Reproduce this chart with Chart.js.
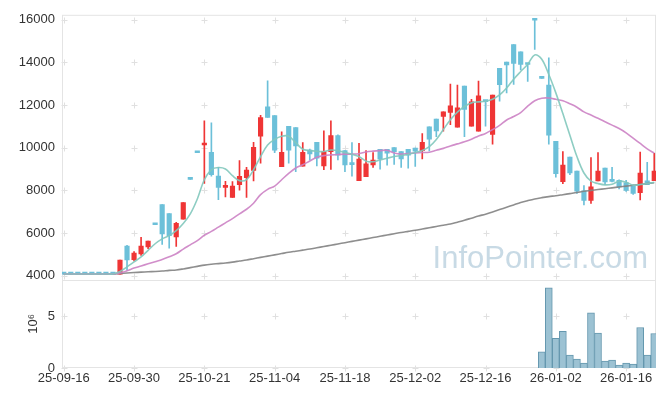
<!DOCTYPE html>
<html>
<head>
<meta charset="utf-8">
<script src="https://cdn.jsdelivr.net/npm/chart.js@4.4.1/dist/chart.umd.min.js"></script>
<style>
    html, body { margin: 0; padding: 0; background: #fff; }
    #grafico { display: block; }
</style>
</head>
<body>
<canvas id="grafico" width="665" height="396"></canvas>
<script>
// Rótulos do eixo X (um a cada 10 pregões)
const indicesTicks = [0, 10, 20, 30, 40, 50, 60, 70, 80];
const rotulosTicks = ['25-09-16', '25-09-30', '25-10-21', '25-11-04', '25-11-18',
    '25-12-02', '25-12-16', '26-01-02', '26-01-16'];

// Ticks dos eixos Y
const ticksPreco = [4000, 6000, 8000, 10000, 12000, 14000, 16000];
const ticksVolume = [0, 5];

// Velas (abertura, máxima, mínima, fechamento)
const abertura = [
    4092, 4092, 4092, 4092, 4092, 4092, 4092, 4092,
    4080, 5389, 4755, 5019, 5357, 6400, 7333, 6917, 5820, 6653, 8530, 9780,
    10126, 9788, 8676, 8140, 7671, 8273, 8597, 8940, 10542, 11917,
    11501, 9107, 11005, 10945, 9139, 9894, 10250, 9153, 9820, 10574,
    9866, 9230, 8459, 8644, 9199, 9926, 9926, 10005, 9820, 9926,
    9986, 9866, 10977, 11348, 11468, 11655, 10959, 12890, 11005, 10774,
    12200, 10620, 13723, 14015, 14834, 14496, 13920, 15990, 13270, 12936,
    10297, 8412, 9556, 8908, 7982, 7533, 8445, 9047, 8440, 8477,
    8352, 8227, 7890, 8445, 8459
];
const maxima = [
    4092, 4092, 4092, 4092, 4092, 4092, 4092, 4092,
    4740, 5421, 5130, 5806, 5620, 6400, 7333, 6917, 6500, 7426, 8530, 9780,
    11255, 11163, 9079, 8431, 8412, 9403, 9079, 10250, 11514, 13135,
    11501, 10746, 11005, 10945, 10236, 9940, 10250, 10792, 11255, 10606,
    9866, 10236, 10204, 9866, 9773, 9926, 9926, 10005, 9820, 9926,
    9986, 10667, 10977, 11348, 11686, 12982, 12936, 12890, 12273, 13121,
    12210, 12473, 13723, 14015, 14834, 14496, 13920, 15990, 13270, 14219,
    10297, 9820, 9556, 8908, 8227, 9542, 9773, 9047, 9079, 8500,
    8477, 8260, 9801, 9310, 9741
];
const minima = [
    4080, 4080, 4080, 4080, 4080, 4080, 4080, 4080,
    4080, 4264, 4690, 4958, 5264, 6390, 5468, 5296, 5375, 6653, 8515, 9765,
    8322, 8662, 7565, 7690, 7671, 8014, 7671, 8445, 9278, 11422,
    9773, 9107, 9278, 8875, 9139, 9431, 9153, 8967, 8986, 9431,
    8875, 8662, 8459, 8644, 9079, 9000, 9185, 9218, 9079, 9047,
    9125, 9477, 9847, 10514, 10774, 11084, 10959, 10514, 11005, 10774,
    11005, 10172, 12180, 12566, 12967, 13644, 13107, 14603, 13250, 10172,
    8616, 8320, 8736, 7857, 7320, 7394, 8445, 8273, 8400, 8074,
    7950, 7810, 7551, 8273, 8459
];
const fechamento = [
    4080, 4080, 4080, 4080, 4080, 4080, 4080, 4080,
    4740, 4741, 5065, 5389, 5620, 6390, 5958, 5884, 6454, 7426, 8515, 9765,
    10204, 8738, 8136, 8160, 8199, 8662, 8954, 10019, 11408, 11422,
    9880, 9788, 9880, 10079, 9788, 9709, 9510, 9820, 10574, 9648,
    9199, 9210, 9463, 9246, 9417, 9477, 9741, 9820, 9477, 9648,
    9834, 10250, 10403, 10792, 11686, 11964, 11871, 11793, 12149, 12427,
    12160, 12473, 12952, 13876, 13954, 13908, 13900, 15975, 13250, 10588,
    8783, 9185, 8815, 7968, 7533, 8167, 8908, 8398, 8420, 8167,
    7996, 7857, 8815, 8273, 8908
];

// Médias móveis
const mediaCurta = [
    4085, 4085, 4085, 4085, 4085, 4085, 4085, 4085,
    4200, 4420, 4650, 4880, 5190, 5500, 5730, 5880, 6116, 6450, 6900, 7600,
    8500, 8968, 9070, 9000, 8690, 8459, 8505, 8968, 9588, 10126,
    10389, 10542, 10542, 10236, 9926, 9866, 9834, 9820, 9894, 9866,
    9773, 9695, 9588, 9371, 9340, 9431, 9510, 9588, 9633, 9695,
    9773, 9866, 10051, 10389, 10852, 11315, 11672, 11931, 12102, 12149,
    12180, 12273, 12473, 12797, 13214, 13570, 13908, 14350, 14150, 13430,
    12570, 11600, 10588, 9588, 8815, 8431, 8322, 8260, 8290, 8431,
    8384, 8245, 8273, 8322, 8384
];
const mediaMedia = [
    4090, 4090, 4090, 4090, 4090, 4090, 4090, 4090,
    4130, 4230, 4360, 4460, 4560, 4660, 4760, 4890, 5030, 5250, 5450, 5650,
    5900, 6080, 6280, 6480, 6680, 6900, 7117, 7400, 7800, 8050,
    8200, 8500, 8800, 9050, 9200, 9380, 9550, 9630, 9663, 9680,
    9700, 9700, 9720, 9800, 9840, 9866, 9880, 9750, 9700, 9730,
    9760, 9773, 9790, 9880, 9970, 10080, 10180, 10280, 10400, 10550,
    10670, 10850, 11050, 11300, 11460, 11650, 11950, 12200, 12320, 12330,
    12270, 12200, 12060, 11900, 11680, 11530, 11380, 11220, 11060, 10900,
    10700, 10450, 10200, 9950, 9741
];
const mediaLonga = [
    4085, 4085, 4085, 4085, 4085, 4085, 4085, 4085,
    4110, 4130, 4150, 4170, 4185, 4200, 4220, 4250, 4270, 4320, 4380, 4440,
    4500, 4540, 4570, 4600, 4640, 4690, 4740, 4800, 4860, 4920,
    4980, 5040, 5100, 5150, 5200, 5250, 5310, 5370, 5430, 5490,
    5550, 5610, 5670, 5730, 5790, 5850, 5910, 5970, 6030, 6080,
    6130, 6190, 6250, 6310, 6370, 6423, 6510, 6600, 6700, 6800,
    6885, 6990, 7100, 7210, 7320, 7430, 7520, 7600, 7660, 7710,
    7750, 7800, 7850, 7900, 7960, 8000, 8040, 8080, 8120, 8160,
    8200, 8240, 8280, 8320, 8360
];

// Volume em milhões (10^6)
const volume = [
    0, 0, 0, 0, 0, 0, 0, 0, 0, 0,
    0, 0, 0, 0, 0, 0, 0, 0, 0, 0,
    0, 0, 0, 0, 0, 0, 0, 0, 0, 0,
    0, 0, 0, 0, 0, 0, 0, 0, 0, 0,
    0, 0, 0, 0, 0, 0, 0, 0, 0, 0,
    0, 0, 0, 0, 0, 0, 0, 0, 0, 0,
    0, 0, 0, 0, 0, 0, 0, 0,
    1.56, 7.77, 2.87, 3.54, 1.24, 0.86, 0.48, 5.35, 3.38, 0.67,
    0.76, 0.29, 0.48, 0.38, 3.92, 1.24, 3.34
];

// ==============================

const corAlta = '#ef3535';
const corBaixa = '#6cc0d9';
const corTexto = '#333333';
const fonte = '"Liberation Sans", Arial, sans-serif';

Chart.defaults.font.family = fonte;
Chart.defaults.font.size = 13;
Chart.defaults.color = corTexto;

const indices = fechamento.map((_, i) => i);
const pavios = indices.map(i => ({ x: i, y: [minima[i], maxima[i]] }));
const corpos = indices.map(i => ({
    x: i,
    y: [Math.min(abertura[i], fechamento[i]), Math.max(abertura[i], fechamento[i])]
}));
const coresVela = indices.map(i => fechamento[i] >= abertura[i] ? corAlta : corBaixa);

function linhaMedia(valores, cor) {
    return {
        type: 'line',
        data: indices.map(i => ({ x: i, y: valores[i] })),
        yAxisID: 'y',
        borderColor: cor,
        borderWidth: 1.6,
        pointRadius: 0,
        tension: 0.35,
        order: 0
    };
}

// Cruzes da grade, moldura e marca d'água
const pluginFundo = {
    id: 'fundo',
    beforeDatasetsDraw(chart) {
        const { ctx, chartArea: a, scales } = chart;
        ctx.save();

        ctx.font = '31px ' + fonte;
        ctx.fillStyle = 'rgba(190,212,225,0.85)';
        ctx.textAlign = 'right';
        ctx.textBaseline = 'alphabetic';
        ctx.fillText('InfoPointer.com', a.right - 8, scales.y.bottom - 12);

        ctx.strokeStyle = '#e0e0e0';
        ctx.lineWidth = 1;
        [scales.y, scales.v].forEach(esc => {
            esc.ticks.forEach(t => {
                const py = Math.round(esc.getPixelForValue(t.value)) + 0.5;
                scales.x.ticks.forEach(tx => {
                    const px = Math.round(scales.x.getPixelForValue(tx.value)) + 0.5;
                    ctx.beginPath();
                    ctx.moveTo(px - 3, py);
                    ctx.lineTo(px + 3, py);
                    ctx.moveTo(px, py - 3);
                    ctx.lineTo(px, py + 3);
                    ctx.stroke();
                });
            });
        });

        ctx.strokeStyle = '#e4e4e4';
        ctx.strokeRect(a.left + 0.5, a.top + 0.5, a.right - a.left - 1, a.bottom - a.top - 1);
        const sep = Math.round(scales.y.bottom) + 0.5;
        ctx.beginPath();
        ctx.moveTo(a.left, sep);
        ctx.lineTo(a.right, sep);
        ctx.stroke();
        ctx.restore();
    }
};

const ctx = document.getElementById('grafico').getContext('2d');
new Chart(ctx, {
    type: 'bar',
    data: {
        datasets: [
            linhaMedia(mediaCurta, 'rgba(130,200,188,0.9)'),
            linhaMedia(mediaMedia, 'rgba(204,130,196,0.9)'),
            linhaMedia(mediaLonga, 'rgba(130,130,130,0.9)'),
            {
                data: pavios,
                yAxisID: 'y',
                backgroundColor: coresVela,
                barThickness: 1,
                grouped: false,
                order: 3
            },
            {
                data: corpos,
                yAxisID: 'y',
                backgroundColor: coresVela,
                barThickness: 4.5,
                minBarLength: 2,
                grouped: false,
                order: 2
            },
            {
                data: indices.map(i => ({ x: i, y: volume[i] || null })),
                yAxisID: 'v',
                backgroundColor: '#9cc2d3',
                borderColor: '#6497ae',
                borderWidth: 1,
                barThickness: 7,
                grouped: false,
                order: 4
            }
        ]
    },
    options: {
        responsive: false,
        animation: false,
        devicePixelRatio: 1,
        layout: { padding: { top: 10, right: 9, left: 0, bottom: 0 } },
        plugins: {
            legend: { display: false },
            tooltip: { enabled: false }
        },
        scales: {
            x: {
                type: 'linear',
                min: -0.25,
                max: 84.25,
                offset: false,
                grid: { display: false, tickLength: 0 },
                border: { display: false },
                afterBuildTicks: s => { s.ticks = indicesTicks.map(v => ({ value: v })); },
                ticks: {
                    autoSkip: false,
                    maxRotation: 0,
                    padding: 3,
                    callback: (v, i) => rotulosTicks[i]
                },
                afterFit: s => { s.height = 28; }
            },
            v: {
                type: 'linear',
                position: 'left',
                stack: 'painel',
                stackWeight: 1,
                min: 0,
                max: 8.55,
                grid: { display: false, tickLength: 0 },
                border: { display: false },
                afterBuildTicks: s => { s.ticks = ticksVolume.map(v => ({ value: v })); },
                ticks: { padding: 7, callback: v => String(v) },
                title: { display: true, text: '10⁶', padding: { top: 26, bottom: 0 } },
                afterFit: s => { s.width = 62; }
            },
            y: {
                type: 'linear',
                position: 'left',
                stack: 'painel',
                stackWeight: 3,
                min: 3815,
                max: 16230,
                grid: { display: false, tickLength: 0 },
                border: { display: false },
                afterBuildTicks: s => { s.ticks = ticksPreco.map(v => ({ value: v })); },
                ticks: { padding: 7, callback: v => String(v) },
                afterFit: s => { s.width = 62; }
            }
        }
    },
    plugins: [pluginFundo]
});
</script>
</body>
</html>
